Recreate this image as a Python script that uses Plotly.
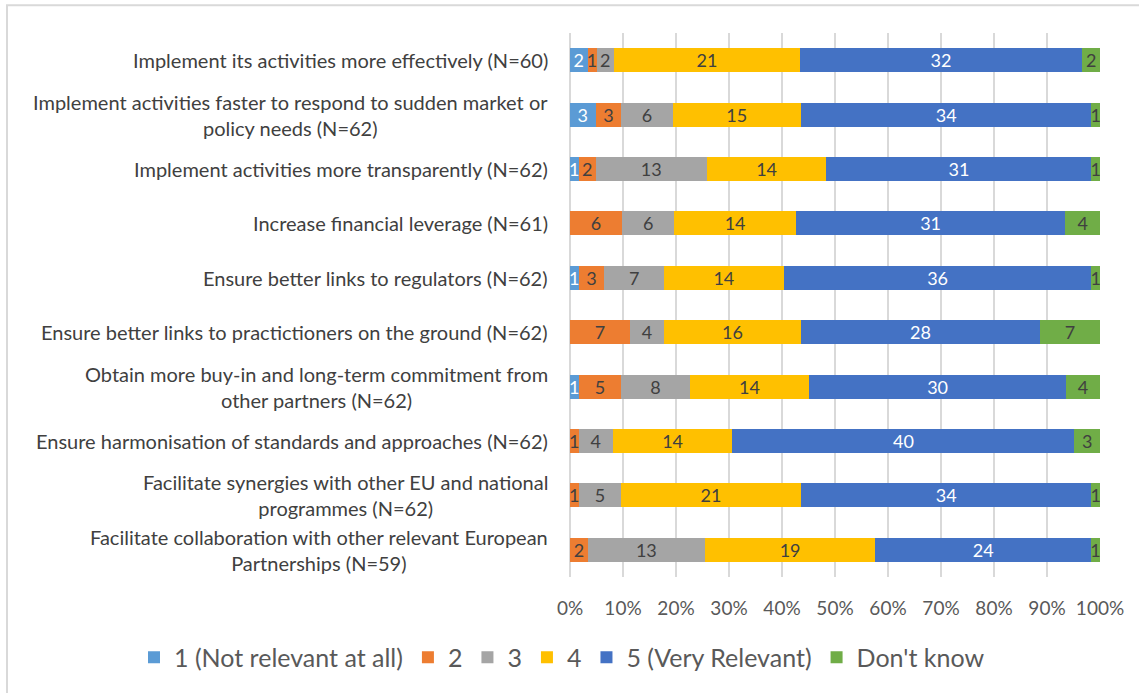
import plotly.graph_objects as go

categories = [
    "Implement its activities more effectively (N=60)",
    "Implement activities faster to respond to sudden market or<br>policy needs (N=62)",
    "Implement activities more transparently (N=62)",
    "Increase financial leverage (N=61)",
    "Ensure better links to regulators (N=62)",
    "Ensure better links to practictioners on the ground (N=62)",
    "Obtain more buy-in and long-term commitment from<br>other partners (N=62)",
    "Ensure harmonisation of standards and approaches (N=62)",
    "Facilitate synergies with other EU and national<br>programmes (N=62)",
    "Facilitate collaboration with other relevant European<br>Partnerships (N=59)",
]

series_names = ["1 (Not relevant at all)", "2", "3", "4", "5 (Very Relevant)", "Don't know"]
v1 = [2, 3, 1, 0, 1, 0, 1, 0, 0, 0]
v2 = [1, 3, 2, 6, 3, 7, 5, 1, 1, 2]
v3 = [2, 6, 13, 6, 7, 4, 8, 4, 5, 13]
v4 = [21, 15, 14, 14, 14, 16, 14, 14, 21, 19]
v5 = [32, 34, 31, 31, 36, 28, 30, 40, 34, 24]
vdk = [2, 1, 1, 4, 1, 7, 4, 3, 1, 1]
series_values = [v1, v2, v3, v4, v5, vdk]

colors = ["#5B9BD5", "#ED7D31", "#A5A5A5", "#FFC000", "#4472C4", "#70AD47"]
text_colors = ["#FFFFFF", "#404040", "#404040", "#404040", "#FFFFFF", "#404040"]
tick_labels = [f"{p}%" for p in range(0, 101, 10)]

FONT = "Lato, 'Liberation Sans', Arial, sans-serif"

fig = go.Figure()
for name, vals, c, tc in zip(series_names, series_values, colors, text_colors):
    fig.add_trace(go.Bar(
        y=categories, x=vals, name=name, orientation="h",
        marker=dict(color=c, line=dict(width=0)),
        text=[str(v) if v else "" for v in vals],
        textposition="inside", insidetextanchor="middle", textangle=0,
        textfont=dict(color=tc, size=18, family=FONT),
        hoverinfo="x+y+name",
    ))

for cat in categories:
    fig.add_annotation(
        x=0, xref="paper", y=cat, yref="y", xanchor="right", yanchor="middle",
        xshift=-20, text=cat, showarrow=False, align="center",
        font=dict(size=20, color="#404040", family=FONT),
    )

fig.add_shape(type="rect", xref="paper", yref="paper",
              x0=-563 / 530, x1=1.1, y0=-0.3, y1=1 + 28 / 548,
              line=dict(color="#D9D9D9", width=2), fillcolor="rgba(0,0,0,0)", layer="below")

fig.update_layout(
    width=1139, height=693,
    margin=dict(l=570, r=39, t=33, b=112),
    barmode="stack", barnorm="percent", bargap=0.56,
    plot_bgcolor="white", paper_bgcolor="white",
    font=dict(family=FONT, color="#595959"),
    uniformtext=dict(mode="show", minsize=18),
    showlegend=True,
    legend=dict(orientation="h", x=-436 / 530, xanchor="left",
                y=-0.148, yanchor="middle", font=dict(size=25, color="#595959"),
                traceorder="normal"),
    xaxis=dict(range=[0, 100], autorange=False, tickmode="array",
               tickvals=list(range(0, 101, 10)),
               ticktext=tick_labels, showgrid=True, gridcolor="#D9D9D9", gridwidth=2,
               zeroline=True, zerolinecolor="#D9D9D9", zerolinewidth=2,
               tickfont=dict(size=19, color="#595959"),
               ticks="outside", ticklen=14, tickcolor="rgba(0,0,0,0)",
               fixedrange=True),
    yaxis=dict(type="category", categoryorder="array", categoryarray=categories,
               range=[len(categories) - 0.5, -0.5], autorange=False,
               showticklabels=False, showgrid=False, zeroline=False, ticks=""),
)

fig.write_html("out.html", config={"displayModeBar": False},
               post_script="document.body.style.margin='0';")
